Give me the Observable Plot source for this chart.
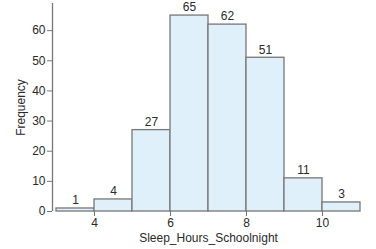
<!DOCTYPE html>
<html><head><meta charset="utf-8">
<script src="https://cdn.jsdelivr.net/npm/d3@7"></script>
<script src="https://cdn.jsdelivr.net/npm/@observablehq/plot@0.6"></script>
<style>body{margin:0;background:#fff;font-family:"Liberation Sans",Arial,sans-serif}</style>
</head><body><div id="chart"></div>
<script>
const binStart = [3, 4, 5, 6, 7, 8, 9, 10];
const binEnd = [4, 5, 6, 7, 8, 9, 10, 11];
const counts = [1, 4, 27, 65, 62, 51, 11, 3];
const xTicks = [4, 6, 8, 10];
const yTicks = [0, 10, 20, 30, 40, 50, 60];
const data = binStart.map((s, i) => ({x1: s, x2: binEnd[i], y: counts[i]}));
const ink = "#2a2a2a";
const chart = Plot.plot({
  width: 376, height: 249,
  marginLeft: 56, marginRight: 16, marginTop: 3, marginBottom: 38,
  style: {fontFamily: "Liberation Sans, Arial, sans-serif", fontSize: "12px", color: ink},
  x: {domain: [3, 11]},
  y: {domain: [0, 69]},
  marks: [
    Plot.rectY(data, {x1: "x1", x2: "x2", y: "y", fill: "#dff0fb", stroke: "#777", strokeWidth: 1.3}),
    Plot.text(data, {x: d => (d.x1 + d.x2) / 2, y: "y", text: d => String(d.y), dy: -8, fill: ink, fontSize: 12}),
    Plot.ruleX([3], {y1: 0, y2: 69, dx: -4, stroke: "#777", strokeWidth: 1.3}),
    Plot.axisY({ticks: yTicks, dx: -4, tickSize: 5, tickPadding: 2, stroke: "#777", fill: ink, fontSize: 12, label: "Frequency", labelAnchor: "center", labelArrow: "none", labelOffset: 40}),
    Plot.axisX({ticks: xTicks, tickSize: 5, tickPadding: 2, stroke: "#777", fill: ink, fontSize: 12, label: "Sleep_Hours_Schoolnight", labelAnchor: "center", labelArrow: "none", labelOffset: 30})
  ]
});
document.getElementById("chart").append(chart);
</script></body></html>
